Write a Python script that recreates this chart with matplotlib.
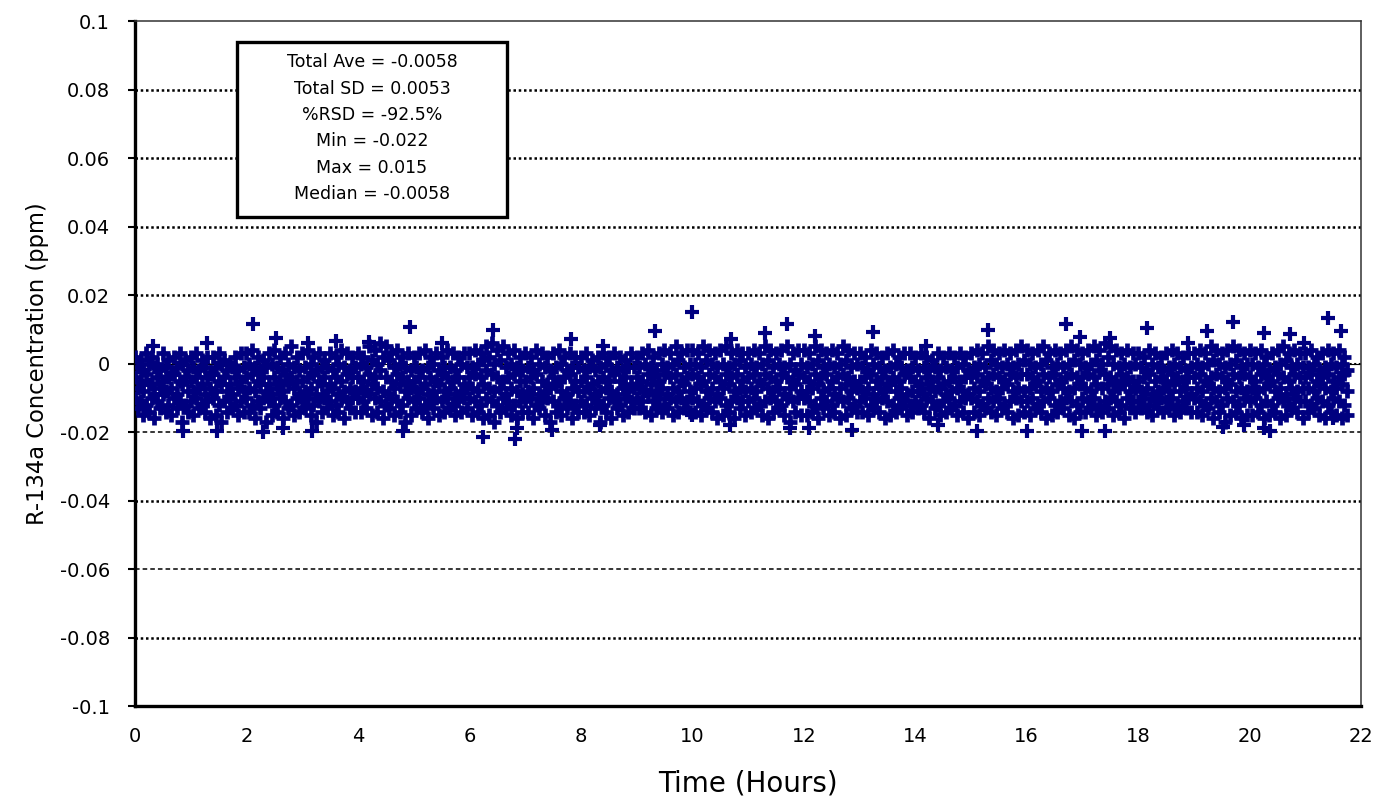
import matplotlib.pyplot as plt
import numpy as np

upper = [
    2, 1, 3, 2, 0, 3, 1, 2, 3, 1,
    2, 3, 1, 2, 2, 3, 1, 0, 2, 3,
    3, 4, 2, 1, 3, 4, 2, 3, 5, 2,
    3, 4, 2, 3, 1, 3, 2, 4, 3, 2,
    3, 2, 5, 4, 6, 5, 3, 4, 2, 3,
    2, 3, 4, 2, 3, 2, 4, 3, 2, 3,
    3, 4, 3, 5, 6, 4, 5, 3, 4, 2,
    3, 2, 4, 3, 2, 3, 4, 2, 3, 2,
    2, 3, 1, 2, 3, 2, 3, 2, 1, 3,
    2, 3, 4, 2, 3, 4, 3, 5, 3, 4,
    4, 3, 5, 4, 3, 4, 5, 3, 4, 3,
    3, 4, 3, 5, 4, 3, 4, 5, 3, 4,
    4, 3, 5, 4, 3, 4, 3, 5, 4, 3,
    3, 2, 4, 3, 2, 3, 4, 2, 3, 3,
    2, 3, 2, 1, 3, 2, 3, 2, 3, 2,
    3, 4, 3, 5, 4, 3, 4, 3, 4, 5,
    4, 3, 4, 5, 3, 4, 3, 4, 5, 4,
    3, 4, 5, 4, 6, 5, 4, 3, 4, 3,
    3, 2, 4, 3, 2, 3, 4, 3, 2, 3,
    3, 4, 3, 5, 4, 3, 4, 5, 4, 3,
    4, 3, 4, 2, 3, 4, 5, 3, 4, 3,
    3, 4, 2, 3, 4, 3, 4, 2,
]
upper_mid = [
    -1, -2, 0, -1, -2, -1, -3, -1, 0, -2,
    -1, -2, -1, -3, -1, 0, -2, -1, -2, -1,
    0, -1, -2, -1, 0, -1, -2, 0, -1, -2,
    -1, 0, -2, -1, -1, -2, 0, -1, -2, -1,
    0, -1, 1, 0, 2, 1, -1, 0, -1, -2,
    -1, -2, -1, 0, -2, -1, -1, -2, 0, -1,
    -1, 0, 1, 2, 0, 1, -1, 0, -1, -2,
    -1, -2, 0, -1, -2, -1, 0, -2, -1, -1,
    -2, -1, -2, -1, 0, -2, -1, -2, -1, -1,
    -1, 0, -1, -2, 0, -1, 0, 1, -1, 0,
    0, -1, 1, 0, -1, 0, -1, 0, 1, -1,
    0, -1, 0, 1, -1, 0, -1, 0, -2, 0,
    -1, 0, 1, -1, 0, -1, 0, 1, -1, 0,
    -1, -2, 0, -1, -2, -1, 0, -1, -2, -1,
    -2, -1, -2, -1, -2, -1, -2, -1, 0, -2,
    -1, 0, -1, 1, 0, -1, 0, -1, 0, 1,
    0, -1, 0, 1, -1, 0, -1, 0, 1, 0,
    -1, 0, 1, 0, 2, 0, -1, 0, -1, 0,
    -1, -2, 0, -1, -2, -1, 0, -1, -2, -1,
    0, -1, 0, 1, 0, -1, 0, 1, -1, 0,
    0, -1, 0, -2, -1, 0, 1, -1, 0, -1,
    -1, 0, -2, -1, 0, -1, 0, -2,
]
mid = [
    -4, -5, -3, -6, -4, -5, -4, -3, -5, -4,
    -5, -4, -6, -4, -3, -5, -4, -6, -4, -5,
    -4, -3, -5, -4, -6, -4, -5, -3, -4, -5,
    -5, -4, -3, -5, -4, -6, -4, -5, -3, -4,
    -4, -5, -3, -4, -2, -4, -5, -3, -4, -5,
    -5, -4, -6, -4, -5, -3, -4, -5, -4, -6,
    -4, -3, -4, -2, -3, -4, -5, -4, -3, -5,
    -5, -4, -3, -5, -6, -4, -5, -4, -3, -5,
    -5, -4, -6, -5, -4, -5, -3, -5, -4, -6,
    -4, -5, -3, -4, -5, -3, -4, -3, -5, -4,
    -3, -4, -5, -3, -4, -5, -3, -4, -3, -5,
    -4, -3, -5, -3, -4, -5, -3, -4, -5, -3,
    -4, -5, -3, -4, -3, -5, -4, -3, -4, -5,
    -5, -4, -3, -5, -4, -6, -4, -5, -3, -4,
    -5, -6, -4, -5, -4, -6, -5, -4, -5, -4,
    -4, -3, -5, -4, -3, -4, -5, -3, -4, -3,
    -3, -4, -5, -3, -4, -3, -5, -4, -3, -4,
    -4, -3, -4, -2, -3, -4, -5, -3, -4, -5,
    -5, -4, -3, -5, -4, -5, -3, -4, -5, -4,
    -4, -3, -5, -4, -3, -4, -5, -3, -4, -3,
    -4, -5, -3, -4, -5, -3, -4, -5, -3, -4,
    -4, -3, -5, -4, -3, -5, -4, -3,
]
lower_mid = [
    -7, -8, -6, -9, -7, -8, -7, -9, -6, -8,
    -8, -7, -9, -7, -8, -6, -8, -9, -7, -8,
    -7, -8, -6, -8, -9, -7, -8, -6, -7, -9,
    -8, -7, -9, -6, -8, -7, -9, -8, -7, -8,
    -7, -8, -6, -7, -8, -9, -7, -6, -8, -7,
    -8, -7, -9, -8, -6, -8, -7, -9, -8, -7,
    -7, -8, -6, -7, -8, -7, -9, -7, -8, -9,
    -8, -7, -9, -8, -7, -6, -8, -9, -7, -8,
    -8, -7, -9, -8, -7, -8, -9, -7, -8, -7,
    -7, -8, -6, -8, -7, -9, -7, -8, -6, -8,
    -7, -6, -8, -7, -9, -7, -6, -8, -7, -8,
    -7, -8, -6, -7, -8, -7, -9, -7, -6, -8,
    -8, -7, -6, -8, -7, -9, -7, -6, -8, -7,
    -8, -7, -9, -7, -8, -6, -8, -7, -9, -8,
    -8, -9, -7, -8, -7, -9, -8, -7, -8, -9,
    -7, -8, -6, -7, -8, -7, -6, -8, -7, -8,
    -7, -6, -8, -7, -8, -6, -7, -8, -7, -6,
    -7, -8, -6, -7, -6, -8, -7, -6, -8, -7,
    -8, -7, -9, -8, -7, -8, -6, -8, -7, -9,
    -7, -8, -6, -7, -8, -7, -6, -8, -7, -8,
    -7, -8, -7, -6, -8, -7, -9, -7, -8, -7,
    -7, -8, -6, -7, -8, -7, -6, -8,
]
lower = [
    -10, -11, -12, -10, -11, -9, -12, -10, -11, -12,
    -11, -10, -12, -11, -10, -12, -11, -10, -12, -11,
    -10, -12, -11, -10, -11, -12, -10, -11, -12, -10,
    -11, -10, -12, -11, -10, -11, -12, -10, -11, -10,
    -10, -11, -9, -10, -11, -12, -10, -11, -12, -10,
    -11, -10, -12, -11, -10, -11, -10, -12, -11, -10,
    -10, -11, -12, -10, -11, -12, -10, -11, -12, -11,
    -11, -10, -12, -11, -10, -11, -12, -10, -11, -12,
    -11, -12, -10, -11, -12, -10, -11, -12, -10, -11,
    -10, -11, -9, -11, -10, -12, -10, -11, -10, -11,
    -10, -11, -12, -10, -11, -10, -12, -11, -10, -11,
    -11, -10, -12, -11, -10, -11, -12, -10, -11, -10,
    -10, -11, -12, -10, -11, -12, -10, -11, -10, -12,
    -11, -10, -12, -11, -10, -11, -12, -10, -11, -12,
    -11, -12, -10, -11, -12, -11, -10, -12, -11, -10,
    -10, -11, -12, -10, -11, -10, -12, -11, -10, -11,
    -11, -10, -12, -11, -10, -12, -11, -10, -11, -12,
    -10, -11, -10, -12, -11, -10, -11, -12, -10, -11,
    -11, -10, -12, -11, -10, -11, -10, -12, -11, -10,
    -10, -11, -12, -10, -11, -12, -10, -11, -12, -10,
    -11, -10, -12, -11, -12, -10, -11, -12, -10, -11,
    -11, -12, -10, -11, -12, -10, -11, -12,
]
bottom = [
    -13, -15, -14, -16, -13, -14, -15, -13, -17, -14,
    -15, -13, -14, -16, -15, -17, -14, -13, -15, -14,
    -14, -16, -13, -17, -15, -14, -16, -13, -15, -14,
    -13, -15, -17, -14, -13, -15, -14, -16, -13, -14,
    -14, -13, -15, -14, -16, -13, -15, -14, -17, -15,
    -13, -14, -16, -13, -15, -14, -13, -15, -14, -13,
    -15, -14, -16, -15, -17, -14, -13, -15, -16, -14,
    -14, -16, -13, -15, -17, -14, -15, -13, -16, -14,
    -14, -15, -13, -17, -14, -16, -13, -15, -14, -13,
    -13, -14, -15, -13, -14, -13, -15, -14, -13, -14,
    -14, -15, -13, -14, -16, -15, -14, -16, -13, -15,
    -14, -13, -15, -16, -14, -13, -15, -17, -14, -15,
    -15, -14, -16, -13, -15, -14, -16, -15, -13, -14,
    -14, -15, -13, -14, -16, -15, -14, -13, -15, -14,
    -13, -14, -16, -13, -15, -14, -13, -15, -14, -16,
    -14, -15, -13, -14, -15, -13, -14, -16, -15, -14,
    -15, -13, -14, -16, -15, -14, -13, -15, -16, -14,
    -14, -13, -15, -14, -13, -15, -14, -16, -13, -14,
    -13, -14, -15, -13, -14, -13, -15, -14, -13, -14,
    -14, -15, -13, -16, -14, -17, -15, -14, -16, -15,
    -15, -14, -16, -15, -14, -16, -15, -13, -14, -16,
    -14, -13, -15, -16, -14, -15, -16, -15,
]

# isolated readings outside the main band (hours, ppm)
outlier_t = [0.33, 1.3, 2.12, 2.53, 3.1, 3.6, 4.2, 4.93, 5.5, 6.42, 7.83, 8.4,
             9.33, 10.0, 10.7, 11.3, 11.7, 12.2, 13.25, 14.2, 15.3, 16.7, 16.95,
             17.5, 18.16, 18.9, 19.24, 19.7, 20.25, 20.73, 20.97, 21.4, 21.63,
             0.86, 1.47, 2.3, 2.66, 3.18, 4.81, 6.25, 6.82, 6.86, 7.48, 8.35,
             10.0, 10.68, 11.75, 12.1, 12.87, 14.4, 15.1, 16.0, 17.0, 17.4,
             19.53, 19.9, 20.25, 20.37, 21.5]
outlier_v = [0.005, 0.006, 0.0117, 0.0076, 0.006, 0.0065, 0.0064, 0.0108, 0.006,
             0.0099, 0.0073, 0.005, 0.0094, 0.015, 0.0073, 0.0088, 0.0117, 0.0082,
             0.0093, 0.005, 0.0099, 0.0117, 0.0079, 0.0076, 0.0105, 0.006, 0.0094,
             0.0122, 0.009, 0.0085, 0.006, 0.0134, 0.0096,
             -0.0198, -0.0198, -0.020, -0.0187, -0.0198, -0.0198, -0.0213, -0.022,
             -0.0187, -0.0193, -0.0178, -0.015, -0.0178, -0.0187, -0.0187, -0.0193,
             -0.0178, -0.0198, -0.0198, -0.0198, -0.0198, -0.0184, -0.018, -0.0187,
             -0.0198, -0.016]

stats_lines = ['Total Ave = -0.0058', 'Total SD = 0.0053', '%RSD = -92.5%',
               'Min = -0.022', 'Max = 0.015', 'Median = -0.0058']

y_ticks = [0.1, 0.08, 0.06, 0.04, 0.02, 0, -0.02, -0.04, -0.06, -0.08, -0.1]
y_labels = ['0.1', '0.08', '0.06', '0.04', '0.02', '0', '-0.02', '-0.04', '-0.06', '-0.08', '-0.1']
x_ticks = list(range(0, 23, 2))

# two interleaved sample clocks, 3 minutes apart
time_a = np.arange(len(upper)) * 0.1
time_b = time_a + 0.05

plt.rcParams['font.family'] = ['DejaVu Sans']

fig = plt.figure(figsize=(13.77, 8), dpi=100)
ax = fig.add_axes([0.098, 0.1175, 0.8905, 0.856])

navy = '#000080'
for series, tt in [(upper, time_a), (upper_mid, time_b), (mid, time_a),
                   (lower_mid, time_b), (lower, time_a), (bottom, time_b)]:
    ax.plot(tt, np.array(series) * 0.001, '+', ms=9.6, mew=3.4, color=navy, zorder=3)
ax.plot(outlier_t, outlier_v, '+', ms=9.6, mew=3.0, color=navy, zorder=3)

# horizontal grid, dotted; two of them lighter dashed as in the original
for yv in y_ticks[1:-1]:
    if yv == 0:
        ax.axhline(yv, color='black', lw=1.5, ls=(0, (1, 1.2)), zorder=1)
        ax.axhline(yv, color='black', lw=0.8, zorder=1)
    elif yv in (-0.02, -0.06):
        ax.axhline(yv, color='black', lw=1.1, ls=(0, (3, 2)), zorder=1)
    else:
        ax.axhline(yv, color='black', lw=1.8, ls=(0, (1, 1.1)), zorder=1)

ax.set_xlim(0, 22)
ax.set_ylim(-0.1, 0.1)
ax.set_xticks(x_ticks)
ax.set_xticklabels([str(v) for v in x_ticks])
ax.set_yticks(y_ticks)
ax.set_yticklabels(y_labels)
ax.tick_params(axis='x', length=0, pad=15, labelsize=14)
ax.tick_params(axis='y', length=5, width=1.5, direction='out', pad=13, labelsize=14)

ax.spines['left'].set_linewidth(2.4)
ax.spines['bottom'].set_linewidth(2.4)
ax.spines['top'].set_linewidth(1.1)
ax.spines['right'].set_linewidth(1.1)
ax.spines['top'].set_color('#333333')
ax.spines['right'].set_color('#333333')

ax.set_xlabel('Time (Hours)', fontsize=20, labelpad=17)
ax.set_ylabel('R-134a Concentration (ppm)', fontsize=16.3, labelpad=8)

# statistics box
box = plt.Rectangle((0.0832, 0.714), 0.2202, 0.255, transform=ax.transAxes,
                    facecolor='white', edgecolor='black', lw=2.4, zorder=4)
ax.add_patch(box)
for i, line in enumerate(stats_lines):
    ax.text(0.1933, 0.94 - i * 0.0385, line, transform=ax.transAxes,
            ha='center', va='center', fontsize=12.5, zorder=5)

fig.savefig('out.png', dpi=100)
